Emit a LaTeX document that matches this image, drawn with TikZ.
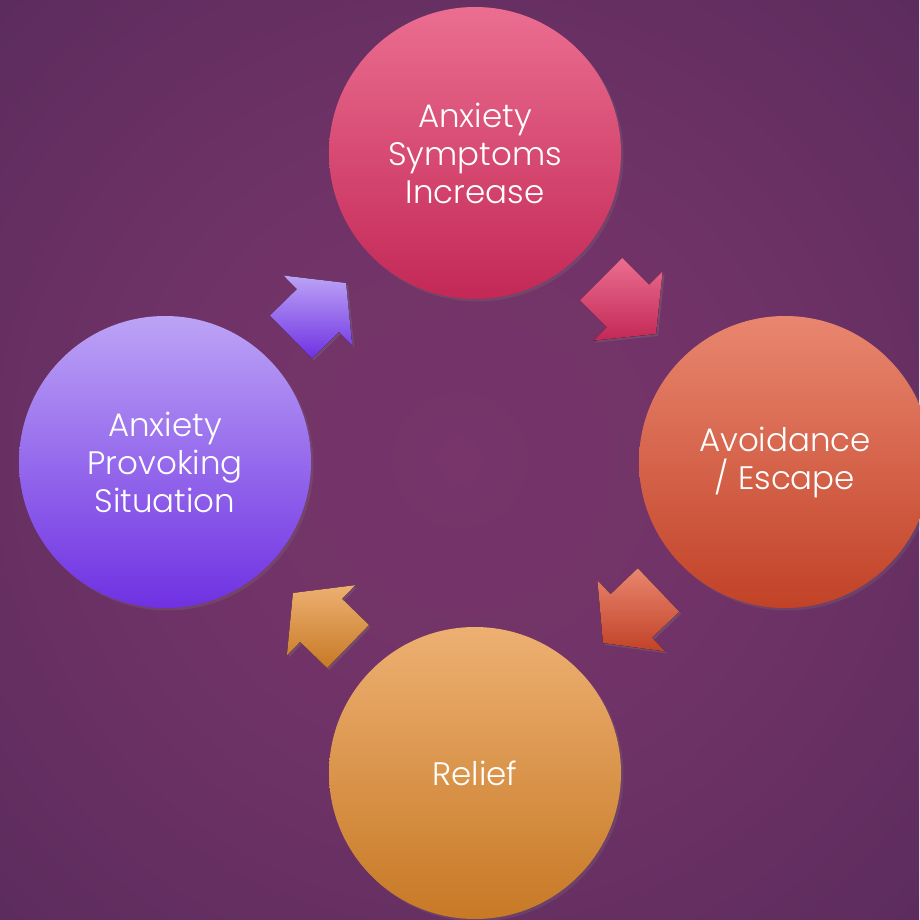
\documentclass[tikz,border=0pt]{standalone}
\usepackage{fontspec}
\setmainfont{Poppins}[UprightFont=* Light]
\usetikzlibrary{calc,shadows}
\definecolor{bgin}{HTML}{77356A}
\definecolor{bgout}{HTML}{4E2757}
\pgfdeclareradialshading{bgshade}{\pgfpoint{0bp}{0bp}}{color(0bp)=(bgin); color(15bp)=(bgin!85!bgout); color(50bp)=(bgout); color(72bp)=(bgout)}
\definecolor{redT}{HTML}{EB6E90}
\definecolor{redB}{HTML}{C32856}
\definecolor{oraT}{HTML}{E9866F}
\definecolor{oraB}{HTML}{C14227}
\definecolor{yelT}{HTML}{EDB072}
\definecolor{yelB}{HTML}{C77925}
\definecolor{vioT}{HTML}{BCA3F6}
\definecolor{vioB}{HTML}{6F31E2}
\tikzset{
  stage/.style={circle, minimum size=292pt, inner sep=0pt, text=white,
    align=center, font=\fontsize{32.5}{38}\selectfont,
    drop shadow={opacity=0.22, shadow xshift=2.5pt, shadow yshift=-2.5pt}},
  blockarrow/.style={drop shadow={opacity=0.3, shadow xshift=2pt, shadow yshift=-2pt}}
}
\newcommand\cyclearrow[4]{%
  \coordinate (nB) at #1;
  \coordinate (nT) at #2;
  \coordinate (nN) at ($(nB)!0.49!(nT)$);
  \fill[blockarrow, top color=#3, bottom color=#4]
    ($(nB)!30pt!90:(nT)$) -- ($(nN)!30pt!90:(nT)$) -- ($(nN)!49pt!90:(nT)$) --
    (nT) -- ($(nN)!49pt!-90:(nT)$) -- ($(nN)!30pt!-90:(nT)$) --
    ($(nB)!30pt!-90:(nT)$) -- cycle;
}
\begin{document}
\begin{tikzpicture}[x=1pt,y=-1pt]
\useasboundingbox (0,0) rectangle (919,920);
\shade[shading=bgshade] (0,0) rectangle (919,920);
\node[stage, top color=redT, bottom color=redB] (sym) at (475,153) {Anxiety\\Symptoms\\Increase};
\node[stage, top color=oraT, bottom color=oraB] (avo) at (785,462) {Avoidance\\/ Escape};
\node[stage, top color=yelT, bottom color=yelB] (rel) at (475,773) {Relief};
\node[stage, top color=vioT, bottom color=vioB] (sit) at (165,462) {Anxiety\\Provoking\\Situation};
\cyclearrow{(601,279)}{(656,334)}{redT}{redB}
\cyclearrow{(658.5,590)}{(603,643)}{oraT}{oraB}
\cyclearrow{(348,646.5)}{(293,593)}{yelT}{yelB}
\cyclearrow{(291,337)}{(346,283)}{vioT}{vioB}
\end{tikzpicture}
\end{document}
